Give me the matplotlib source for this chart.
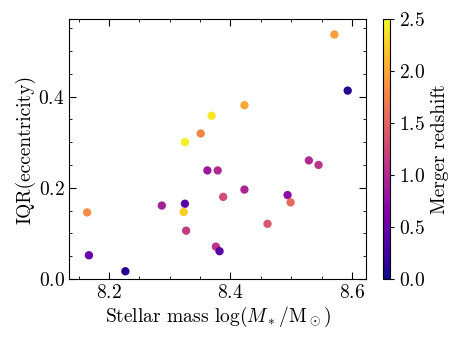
import numpy as np
import matplotlib
matplotlib.use("Agg")
import matplotlib.pyplot as plt

plt.rcParams['font.family'] = 'serif'
plt.rcParams['font.serif'] = ['cmr10']
plt.rcParams['mathtext.fontset'] = 'cm'
plt.rcParams['axes.formatter.use_mathtext'] = True

# log stellar mass, IQR of eccentricity, merger redshift
log_mass = [8.571, 8.593, 8.423, 8.369, 8.351, 8.325,
            8.529, 8.545, 8.362, 8.379, 8.423, 8.388,
            8.494, 8.499, 8.287, 8.325, 8.323, 8.164,
            8.327, 8.461, 8.376, 8.382, 8.167, 8.227]
iqr_ecc = [0.536, 0.413, 0.381, 0.358, 0.319, 0.300,
           0.260, 0.250, 0.238, 0.238, 0.196, 0.180,
           0.184, 0.168, 0.161, 0.165, 0.147, 0.146,
           0.106, 0.121, 0.071, 0.061, 0.052, 0.017]
merger_z = [1.95, 0.10, 2.00, 2.40, 1.75, 2.45,
            1.00, 1.10, 0.85, 1.00, 0.95, 1.30,
            0.75, 1.55, 0.90, 0.40, 2.25, 1.80,
            1.15, 1.40, 1.10, 0.40, 0.50, 0.10]

fig = plt.figure(figsize=(4.58, 3.43), dpi=100)
ax = fig.add_axes([0.1517, 0.1866, 0.6473, 0.758])
cax = fig.add_axes([0.8356, 0.1866, 0.016, 0.758])

sc = ax.scatter(log_mass, iqr_ecc, c=merger_z, cmap='plasma',
                vmin=0.0, vmax=2.5, s=36, linewidths=0)

ax.set_xlim(8.135, 8.623)
ax.set_ylim(0.0, 0.57)
ax.set_xticks([8.2, 8.4, 8.6])
ax.set_yticks([0.0, 0.2, 0.4])
ax.set_xticks(np.arange(8.15, 8.62, 0.05), minor=True)
ax.set_yticks(np.arange(0.0, 0.57, 0.05), minor=True)
ax.tick_params(which='both', direction='in', top=True, right=True, labelsize=14)
ax.tick_params(which='major', length=5)
ax.tick_params(which='minor', length=2.5)

ax.set_xlabel(r'Stellar mass $\log(M_*/\mathrm{M}_\odot)$', fontsize=14, labelpad=2)
ax.set_ylabel('IQR(eccentricity)', fontsize=14, labelpad=2)

cb = fig.colorbar(sc, cax=cax)
cb.set_ticks([0.0, 0.5, 1.0, 1.5, 2.0, 2.5])
cb.ax.tick_params(labelsize=14, length=3)
cb.set_label('Merger redshift', fontsize=14, labelpad=4)
cb.outline.set_linewidth(0.8)

fig.savefig('out.png', dpi=100)
